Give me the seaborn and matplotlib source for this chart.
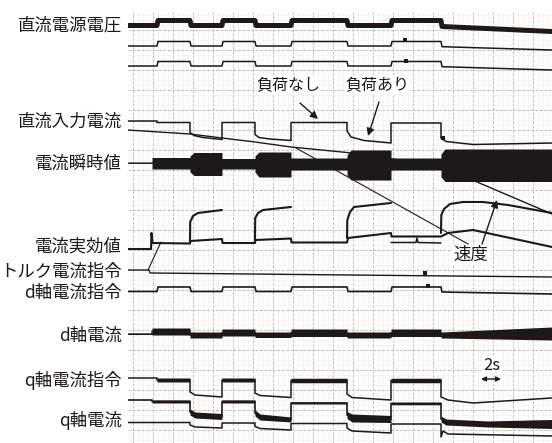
import numpy as np
import pandas as pd
import matplotlib
matplotlib.use("Agg")
import matplotlib.pyplot as plt
import matplotlib.transforms as mtransforms
import seaborn as sns

# chart recorder trace: time in s (2 s per major division), pen level in chart rows (top = 0)

# 直流電源電圧 / d軸電流指令 share the same switching instants
step_t = [0.0, 2.9, 3.0, 6.2, 6.3, 9.4, 9.5, 12.7, 12.8, 16.3, 16.4, 21.9, 22.0, 26.3, 26.4, 31.3, 31.4, 42.4]
vdc1_y = [25.5, 25.5, 20.5, 20.5, 25.5, 25.5, 20.5, 20.5, 25.5, 25.5, 20.5, 20.5, 25.5, 25.5, 20.5, 20.5, 26.5, 31.5]
vdc2_y = [46.0, 46.0, 41.5, 41.5, 46.0, 46.0, 41.5, 41.5, 46.0, 46.0, 41.5, 41.5, 46.0, 46.0, 41.5, 41.5, 46.7, 50.0]
vdc3_y = [66.0, 66.0, 61.5, 61.5, 66.0, 66.0, 61.5, 61.5, 66.0, 66.0, 61.5, 61.5, 66.0, 66.0, 61.5, 61.5, 66.7, 70.0]
dcmd_y = [291.5, 291.5, 287.0, 287.0, 291.5, 291.5, 287.0, 287.0, 291.5, 291.5, 287.0, 287.0, 291.5, 291.5, 287.0, 287.0, 292.0, 294.0]

# 直流入力電流
idc_t = [0.0, 2.9, 2.9, 6.2, 6.2, 6.6, 7.5, 9.4, 9.4, 12.7, 12.7, 13.1, 14.2, 16.3, 16.3,
         21.9, 21.9, 22.3, 23.6, 26.3, 26.3, 31.3, 31.3, 31.8, 34.5, 42.4]
idc_y = [121.0, 121.0, 122.5, 122.5, 132.5, 135.5, 137.5, 139.5, 122.5, 122.5, 134.5, 137.5, 139.0, 140.5, 122.5,
         122.5, 131.0, 137.0, 140.5, 143.0, 123.0, 123.0, 138.0, 141.5, 144.5, 143.0]

# 速度
spd_t = [0.0, 6.2, 9.4, 12.7, 16.3, 21.9, 31.3, 34.2, 42.4]
spd_y = [130.0, 134.0, 138.0, 142.0, 147.0, 152.5, 166.0, 179.0, 214.0]

# 電流瞬時値 (envelope of the ac waveform)
iin_t = [0.0, 2.4, 2.4, 6.2, 6.2, 6.6, 9.4, 9.4, 12.7, 12.7, 13.1, 16.3, 16.3, 21.9, 21.9, 22.3,
         26.3, 26.3, 31.3, 31.3, 31.7, 42.4]
iin_hi = [162.5, 162.5, 157.5, 157.5, 156.0, 152.5, 152.5, 158.5, 158.5, 156.0, 152.0, 152.0, 158.0, 158.0, 155.0, 150.0,
          150.0, 158.0, 158.0, 154.0, 149.0, 149.0]
iin_lo = [163.5, 163.5, 169.0, 169.0, 172.0, 175.5, 175.5, 169.0, 169.0, 172.0, 177.0, 177.0, 170.0, 170.0, 175.0, 180.0,
          180.0, 170.0, 170.0, 177.0, 181.5, 181.5]

# 電流実効値
rms_t = [0.0, 2.3, 2.35, 2.45, 6.2, 6.25, 9.4, 9.45, 12.7, 12.75, 16.3, 16.35, 21.9, 22.0,
         26.3, 26.35, 31.3, 32.0, 34.5, 42.4]
rms_y = [249.0, 249.0, 233.0, 243.0, 243.5, 241.0, 239.0, 243.0, 243.0, 240.0, 238.5, 242.5, 242.5, 238.0,
         233.0, 236.5, 236.5, 233.0, 230.0, 247.0]
rms2_t = [26.3, 28.8, 28.9, 29.0, 31.3]
rms2_y = [242.5, 242.5, 238.0, 242.5, 243.0]
rmsu_seg = [1] * 5 + [2] * 5 + [3] * 5 + [4] * 8
rmsu_t = [6.2, 6.22, 6.5, 7.0, 9.4, 12.7, 12.72, 13.0, 13.5, 16.3, 21.9, 21.93, 22.2, 22.6, 26.3,
          31.3, 31.33, 31.6, 32.2, 33.5, 35.5, 38.0, 42.4]
rmsu_y = [241.0, 222.0, 216.0, 213.0, 210.0, 240.0, 218.0, 213.0, 210.0, 207.0, 238.0, 220.0, 212.0, 207.0, 203.0,
          233.0, 215.0, 209.0, 204.0, 202.0, 202.0, 205.0, 213.0]

# トルク電流指令
tq_t = [0.0, 2.1, 2.2, 42.4]
tq_y = [270.0, 270.0, 273.0, 277.0]
ramp_t = [2.0, 3.3]
ramp_y = [270.0, 242.0]

# d軸電流
id_t = [0.0, 2.4, 2.4, 6.2, 6.2, 9.4, 9.4, 12.7, 12.7, 16.3, 16.3, 21.9, 21.9, 26.3, 26.3, 31.3, 31.3, 42.4]
id_hi = [333.5, 333.5, 328.0, 328.0, 332.0, 332.0, 329.0, 329.0, 332.0, 332.0, 329.0, 329.0, 332.0, 332.0,
         329.0, 329.0, 332.0, 327.0]
id_lo = [334.5, 334.5, 335.0, 335.0, 338.0, 338.0, 336.0, 336.0, 337.5, 337.5, 336.5, 336.5, 338.0, 338.0,
         336.5, 336.5, 338.0, 340.0]

# q軸電流指令
qc_t = [0.0, 2.9, 2.9, 6.2, 6.2, 6.7, 9.4, 9.4, 12.7, 12.7, 13.2, 16.3, 16.3, 21.9, 21.9, 22.4,
        26.3, 26.3, 31.3, 31.3, 32.0, 34.5, 42.4]
qc_y = [378.0, 378.0, 380.0, 380.0, 392.0, 395.0, 397.0, 380.0, 380.0, 393.0, 395.5, 397.5, 380.5, 380.5, 394.0, 397.5,
        400.0, 380.5, 380.5, 397.0, 400.0, 403.0, 398.0]
qc_w = [0, 0, 4, 4, 0, 0, 0, 4, 4, 0, 0, 0, 4.5, 4.5, 0, 0, 0, 4.5, 4.5, 0, 0, 0, 0]

# q軸電流 (two pens)
q1_t = [0.0, 2.4, 2.4, 6.2, 6.2, 6.7, 9.4, 9.4, 12.7, 12.7, 13.2, 16.3, 16.3, 21.9, 21.9, 22.4,
        26.3, 26.3, 31.3, 31.3, 31.8, 36.0, 42.4]
q1_y = [400.0, 400.0, 401.5, 401.5, 412.0, 415.0, 416.5, 401.5, 401.5, 413.0, 417.0, 419.5, 403.0, 403.0, 415.0, 418.0,
        419.0, 403.5, 403.5, 419.0, 422.0, 424.0, 424.0]
q1_w = [0, 0, 3, 3, 6, 6, 6, 3, 3, 6, 6, 5, 2, 2, 7, 8, 7, 2.5, 2.5, 6, 6, 6, 9]
q2_t = [0.0, 6.2, 6.2, 6.7, 9.4, 9.4, 12.7, 12.7, 13.2, 16.3, 16.3, 21.9, 21.9, 22.4, 26.3, 26.3,
        31.3, 31.3, 31.5, 32.0, 42.4]
q2_y = [422.5, 422.5, 425.0, 427.0, 428.0, 423.0, 423.0, 426.5, 428.5, 430.0, 423.5, 423.5, 428.0, 431.0, 433.0, 424.0,
        424.0, 437.0, 431.0, 434.0, 436.0]

# small pen blips
blip_t = [27.7, 27.8, 29.7, 30.0, 31.5]
blip_y = [39.5, 60.5, 273.0, 286.0, 138.0]

labels = ["直流電源電圧", "直流入力電流", "電流瞬時値", "電流実効値", "トルク電流指令",
          "d軸電流指令", "d軸電流", "q軸電流指令", "q軸電流"]
label_y = [25, 122, 164, 246, 272, 293, 336, 380, 421]


def main():
    sns.set_style("white")
    plt.rcParams["font.family"] = ["Noto Sans CJK JP", "DejaVu Sans"]
    ink = "#1d1917"

    fig = plt.figure(figsize=(5.52, 4.43), dpi=100)
    ax = fig.add_axes([128 / 552, 0, 424 / 552, 431 / 443])

    # chart paper grid
    ax.set_xticks(np.arange(0.5, 42.5, 2.0))
    ax.set_yticks(np.arange(30, 443, 20))
    ax.set_xticks(np.arange(0.5, 42.5, 0.5), minor=True)
    ax.set_yticks(np.arange(15, 443, 5), minor=True)
    ax.grid(which="major", color="#bdbdbd", lw=0.7, ls=(0, (3, 1.5)))
    ax.grid(which="minor", color="#eeeeee", lw=0.4)
    ax.set_axisbelow(True)

    pens = [
        (step_t, vdc1_y, 3.6), (step_t, vdc2_y, 1.1), (step_t, vdc3_y, 1.1),
        (idc_t, idc_y, 1.1), (spd_t, spd_y, 1.0), (iin_t, [0.5 * (a + b) for a, b in zip(iin_hi, iin_lo)], 0.8),
        (rms_t, rms_y, 1.5), (rms2_t, rms2_y, 1.1), (tq_t, tq_y, 1.0), (ramp_t, ramp_y, 0.8),
        (step_t, dcmd_y, 1.2), (id_t, [0.5 * (a + b) for a, b in zip(id_hi, id_lo)], 1.0),
        (qc_t, qc_y, 1.1), (q1_t, q1_y, 1.2), (q2_t, q2_y, 1.1),
    ]
    for t, y, lw in pens:
        sns.lineplot(x=t, y=y, sort=False, estimator=None, color=ink, lw=lw, ax=ax)

    upper = pd.DataFrame({"seg": rmsu_seg, "t": rmsu_t, "y": rmsu_y})
    sns.lineplot(data=upper, x="t", y="y", units="seg", estimator=None, sort=False,
                 color=ink, lw=1.5, ax=ax)

    # thick pens drawn as envelopes
    ax.fill_between(iin_t, iin_hi, iin_lo, color=ink, lw=0)
    ax.fill_between(id_t, id_hi, id_lo, color=ink, lw=0)
    qc = np.array(qc_y)
    ax.fill_between(qc_t, qc - np.array(qc_w) / 2, qc + np.array(qc_w) / 2, color=ink, lw=0)
    q1 = np.array(q1_y)
    ax.fill_between(q1_t, q1 - np.array(q1_w) / 2, q1 + np.array(q1_w) / 2, color=ink, lw=0)

    sns.scatterplot(x=blip_t, y=blip_y, marker="s", s=6, color=ink, lw=0, ax=ax)

    ax.set_xlim(0, 42.4)
    ax.set_ylim(443, 12)
    ax.set_xlabel("")
    ax.set_ylabel("")
    ax.tick_params(which="both", length=0, labelbottom=False, labelleft=False)
    for s in ax.spines.values():
        s.set_visible(False)

    # channel names on the left margin
    trans = mtransforms.blended_transform_factory(fig.transFigure, ax.transData)
    for lab, y in zip(labels, label_y):
        ax.text(122 / 552, y, lab, transform=trans, ha="right", va="center",
                fontsize=12.5, color=ink, clip_on=False)

    head = dict(arrowstyle="-|>", color=ink, lw=1.0, mutation_scale=11, shrinkA=0, shrinkB=0)
    ax.text(16.0, 85, "負荷なし", ha="center", va="center", fontsize=11.5, color=ink,
            bbox=dict(fc="white", ec="none", pad=1))
    ax.text(24.9, 85, "負荷あり", ha="center", va="center", fontsize=11.5, color=ink,
            bbox=dict(fc="white", ec="none", pad=1))
    ax.annotate("", xy=(19.0, 119), xytext=(17.2, 103), arrowprops=head)
    ax.annotate("", xy=(24.0, 136), xytext=(25.1, 102), arrowprops=head)

    ax.text(34.3, 255, "速度", ha="center", va="center", fontsize=12.5, color=ink,
            bbox=dict(fc="white", ec="none", pad=1))
    ax.annotate("", xy=(36.9, 200), xytext=(35.4, 244), arrowprops=head)
    ax.annotate("", xy=(16.8, 148), xytext=(34.0, 244),
                arrowprops=dict(arrowstyle="-", color=ink, lw=0.8, shrinkA=0, shrinkB=0))

    ax.text(36.4, 365, "2s", ha="center", va="center", fontsize=12, color=ink,
            bbox=dict(fc="white", ec="none", pad=1))
    ax.annotate("", xy=(37.3, 379), xytext=(35.3, 379),
                arrowprops=dict(arrowstyle="<|-|>", color=ink, lw=1.0, mutation_scale=7,
                                shrinkA=0, shrinkB=0))

    fig.savefig("out.png", dpi=100)
    plt.close(fig)


if __name__ == "__main__":
    main()
